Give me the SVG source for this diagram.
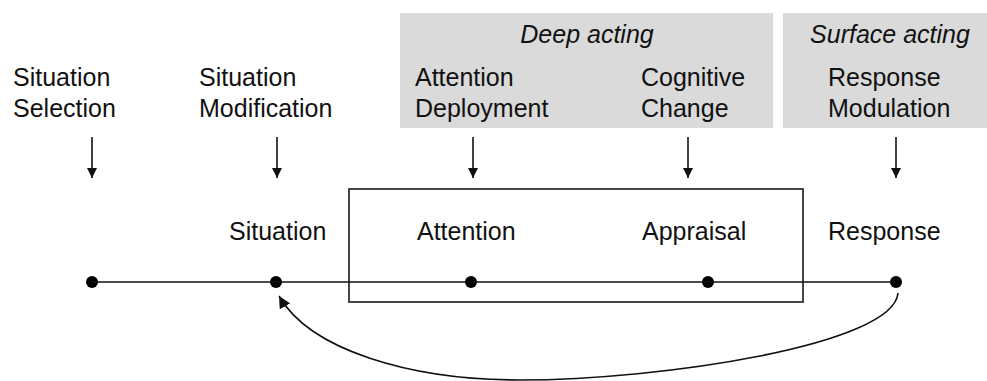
<svg xmlns="http://www.w3.org/2000/svg" width="987" height="381" viewBox="0 0 987 381">
<style>
text{font-family:"Liberation Sans",Arial,sans-serif;font-size:25px;fill:#111}
.it{font-style:italic}
.gray{fill:#dadada}
.ln{stroke:#111;stroke-width:1.6;fill:none}
.dot{fill:#000}
</style>
<defs>
<marker id="ah" viewBox="0 0 10 10" refX="10" refY="5" markerWidth="10" markerHeight="10" markerUnits="userSpaceOnUse" orient="auto">
<path d="M0,0 L10,5 L0,10 z" fill="#111"/>
</marker>
<marker id="ah2" viewBox="0 0 12 12" refX="12" refY="6" markerWidth="12" markerHeight="12" markerUnits="userSpaceOnUse" orient="auto">
<path d="M0,0 L12,6 L0,12 z" fill="#111"/>
</marker>
</defs>
<g id="deep-acting">
<rect class="gray" x="400" y="13" width="373" height="115"/>
<text class="it" x="587" y="43" text-anchor="middle">Deep acting</text>
</g>
<g id="surface-acting">
<rect class="gray" x="783" y="13" width="204" height="115"/>
<text class="it" x="890" y="43" text-anchor="middle">Surface acting</text>
</g>
<g id="situation-selection"><text x="13" y="86">Situation</text><text x="13" y="117">Selection</text></g>
<g id="situation-modification"><text x="199" y="86">Situation</text><text x="199" y="117">Modification</text></g>
<g id="attention-deployment"><text x="415" y="86">Attention</text><text x="415" y="117">Deployment</text></g>
<g id="cognitive-change"><text x="641" y="86">Cognitive</text><text x="641" y="117">Change</text></g>
<g id="response-modulation"><text x="828" y="86">Response</text><text x="828" y="117">Modulation</text></g>
<g id="box"><rect x="349" y="189" width="454" height="113" fill="none" stroke="#333" stroke-width="1.8"/></g>
<g id="situation"><text x="229" y="240">Situation</text><circle class="dot" cx="276" cy="282" r="6"/></g>
<g id="attention"><text x="417" y="240">Attention</text><circle class="dot" cx="471" cy="282" r="6"/></g>
<g id="appraisal"><text x="642" y="240">Appraisal</text><circle class="dot" cx="708" cy="282" r="6"/></g>
<g id="response"><text x="828" y="240">Response</text><circle class="dot" cx="896" cy="282" r="6"/></g>
<g id="start"><circle class="dot" cx="92" cy="282" r="6"/></g>
<g id="connectors">
<line class="ln" x1="92" y1="282" x2="896" y2="282"/>
<line class="ln" x1="92" y1="137" x2="92" y2="178" marker-end="url(#ah)"/>
<line class="ln" x1="277" y1="137" x2="277" y2="178" marker-end="url(#ah)"/>
<line class="ln" x1="473" y1="137" x2="473" y2="178" marker-end="url(#ah)"/>
<line class="ln" x1="688" y1="137" x2="688" y2="178" marker-end="url(#ah)"/>
<line class="ln" x1="896" y1="137" x2="896" y2="178" marker-end="url(#ah)"/>
<path class="ln" d="M898,293 C894,345 660,380 520,380 C410,380 310,350 279,296" marker-end="url(#ah2)"/>
</g>
</svg>
